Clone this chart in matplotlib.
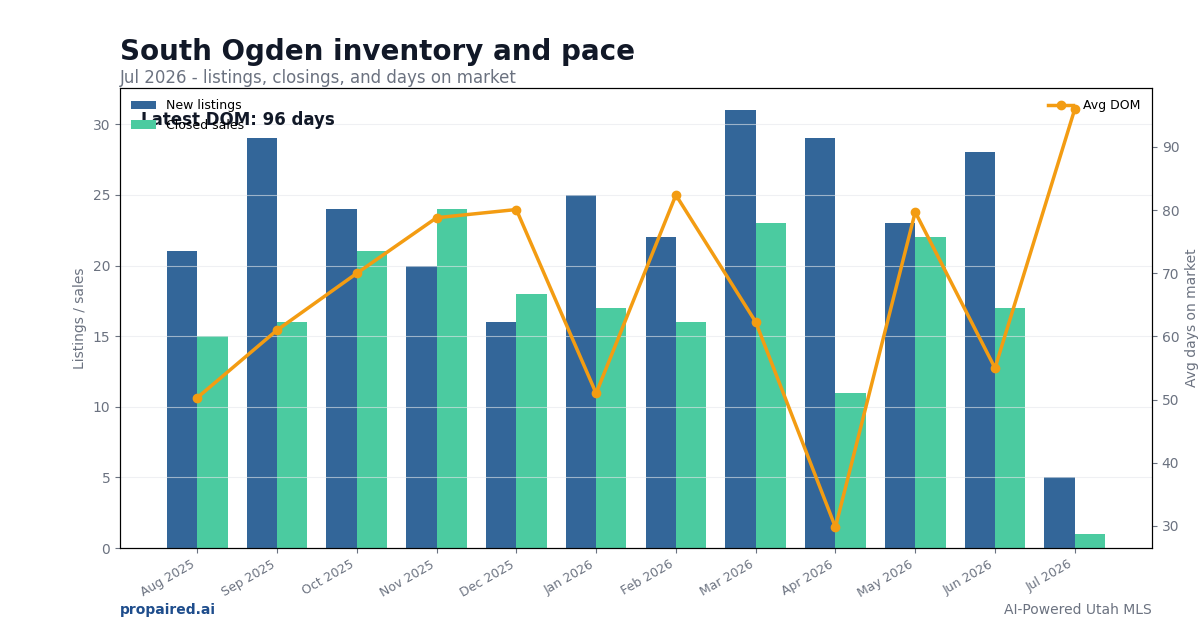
import matplotlib.pyplot as plt
import numpy as np

months = ["Aug 2025", "Sep 2025", "Oct 2025", "Nov 2025", "Dec 2025", "Jan 2026",
          "Feb 2026", "Mar 2026", "Apr 2026", "May 2026", "Jun 2026", "Jul 2026"]
new_listings = [21, 29, 24, 20, 16, 25, 22, 31, 29, 23, 28, 5]
closed_sales = [15, 16, 21, 24, 18, 17, 16, 23, 11, 22, 17, 1]
avg_dom = [50.3, 61, 70, 78.8, 80.1, 51, 82.4, 62.3, 29.8, 79.7, 55, 96]

NAVY = '#336699'
GREEN = '#4bcba0'
ORANGE = '#f39c12'
GRAY = '#6b7280'

fig, ax1 = plt.subplots(figsize=(12, 6.3), dpi=100)
fig.subplots_adjust(left=0.1, right=0.96, top=0.86, bottom=0.13)

x = np.arange(len(months))
w = 0.38
ax1.bar(x - w/2, new_listings, w, color=NAVY, label='New listings')
ax1.bar(x + w/2, closed_sales, w, color=GREEN, label='Closed sales')
ax1.set_ylabel('Listings / sales', color=GRAY, fontsize=10)
ax1.set_xticks(x)
ax1.set_xticklabels(months, rotation=30, ha='right', fontsize=9, color=GRAY)
ax1.tick_params(axis='y', colors=GRAY, labelsize=10)
ax1.tick_params(axis='x', colors=GRAY)
ax1.grid(axis='y', color='#e5e7eb', alpha=0.6)

ax2 = ax1.twinx()
ax2.plot(x, avg_dom, color=ORANGE, marker='o', markersize=6, linewidth=2.5, label='Avg DOM')
ax2.set_ylabel('Avg days on market', color=GRAY, fontsize=10)
ax2.tick_params(axis='y', colors=GRAY, labelsize=10)

ax1.legend(loc='upper left', frameon=False, fontsize=9)
ax2.legend(loc='upper right', frameon=False, fontsize=9)

ax1.text(0.02, 0.95, 'Latest DOM: 96 days', transform=ax1.transAxes,
         fontsize=12, fontweight='bold', color='#111827', va='top')

fig.text(0.1, 0.917, 'South Ogden inventory and pace', fontsize=20,
         fontweight='bold', color='#111827', va='center')
fig.text(0.1, 0.876, 'Jul 2026 - listings, closings, and days on market',
         fontsize=12, color=GRAY, va='center')
fig.text(0.1, 0.032, 'propaired.ai', fontsize=10, fontweight='bold',
         color='#1e4d8c', va='center')
fig.text(0.96, 0.032, 'AI-Powered Utah MLS', fontsize=10, color=GRAY,
         ha='right', va='center')

fig.savefig('out.png')
